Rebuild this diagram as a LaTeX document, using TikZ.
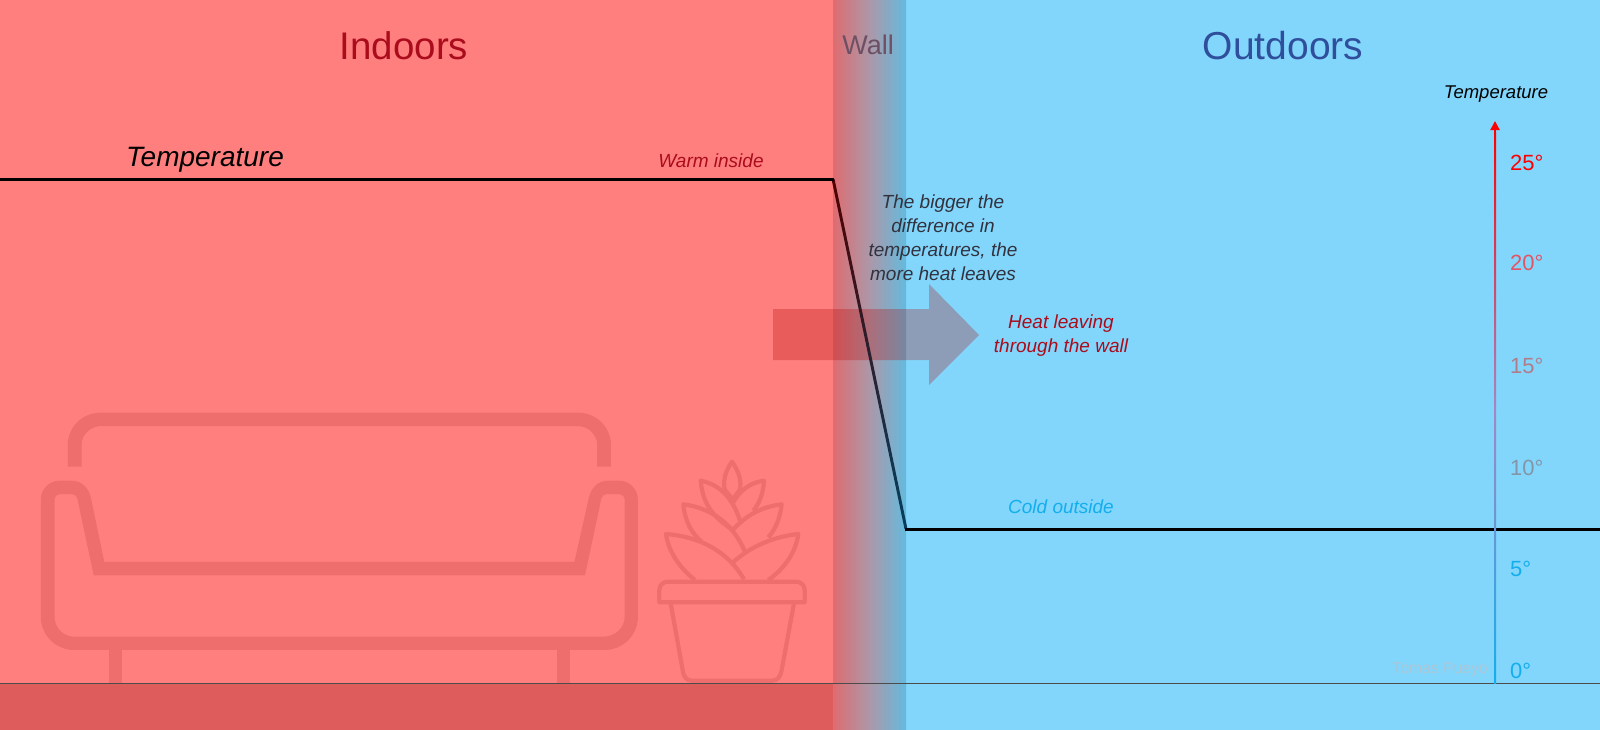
\documentclass[tikz,border=0pt]{standalone}
\usepackage{fontspec}
\setmainfont{Liberation Sans}
\usetikzlibrary{arrows.meta}
\definecolor{roomred}{RGB}{255,127,127}
\definecolor{skyblue}{RGB}{130,214,252}
\definecolor{floorred}{RGB}{222,92,92}
\definecolor{iconred}{RGB}{238,110,110}
\definecolor{darkred}{RGB}{170,12,28}
\definecolor{coldblue}{RGB}{20,174,236}
\definecolor{wallleft}{RGB}{222,108,112}
\definecolor{wallmid}{RGB}{172,152,168}
\definecolor{wallright}{RGB}{100,186,222}
\definecolor{axismid}{RGB}{165,135,195}
\tikzset{
  label/.style={inner sep=0pt,align=center},
  note/.style={label,font=\fontsize{19}{24}\selectfont\itshape},
  degree/.style={inner sep=0pt,anchor=west,font=\fontsize{22}{24}\selectfont},
  plantline/.style={draw=iconred,line width=4.2pt,line join=round},
  heatarrow/.style={fill={rgb,255:red,174;green,0;blue,0},fill opacity=0.27}
}
\begin{document}
\begin{tikzpicture}[x=1pt,y=-1pt]
\useasboundingbox (0,0) rectangle (1600,729);
% background
\path[clip] (0,0) rectangle (1600,729);
\fill[roomred] (0,0) rectangle (834,731);
\fill[skyblue] (905,0) rectangle (1600,731);
\fill[floorred] (0,683) rectangle (834,731);
\shade[left color=wallleft,right color=wallright,middle color=wallmid] (833,0) rectangle (906,731);
% sofa
\begin{scope}[shift={(0,390)},x=0.5294pt,y=-0.3333pt]
\fill[iconred] (128,230) -- (128,165) arc[start angle=180,end angle=270,x radius=62,y radius=97]
  -- (1092,68) arc[start angle=270,end angle=360,x radius=62,y radius=97]
  -- (1154,230) -- (1128,230) -- (1128,165) arc[start angle=0,end angle=-90,x radius=38,y radius=57]
  -- (192,108) arc[start angle=-90,end angle=-180,x radius=38,y radius=57] -- (154,230) -- cycle;
\fill[iconred,even odd rule] (77,330) arc[start angle=180,end angle=270,x radius=35,y radius=58]
  -- (135,272) .. controls (155,272) and (168,295) .. (172,325) -- (197,516) -- (1085,516) -- (1112,325)
  .. controls (1116,295) and (1129,272) .. (1149,272) -- (1170,272) arc[start angle=-90,end angle=0,x radius=35,y radius=58]
  -- (1205,680) arc[start angle=0,end angle=90,x radius=63,y radius=100]
  -- (140,780) arc[start angle=90,end angle=180,x radius=63,y radius=100] -- cycle
  (103,330) arc[start angle=180,end angle=270,x radius=10,y radius=18]
  -- (135,312) .. controls (141,312) and (145,318) .. (146,325) -- (177,556) -- (1105,556) -- (1136,325)
  .. controls (1137,318) and (1141,312) .. (1147,312) -- (1170,312) arc[start angle=-90,end angle=0,x radius=10,y radius=18]
  -- (1180,680) arc[start angle=0,end angle=90,x radius=40,y radius=60]
  -- (140,740) arc[start angle=90,end angle=180,x radius=37,y radius=60] -- cycle;
\fill[iconred] (205,780) rectangle (231,880);
\fill[iconred] (1052,780) rectangle (1077,880);
\end{scope}
% plant
\begin{scope}[shift={(640,440)},x=0.3333pt,y=-0.3333pt]
\draw[plantline] (58,487) -- (58,450) arc[start angle=180,end angle=270,radius=25] -- (469,425) arc[start angle=-90,end angle=0,radius=25] -- (494,487) -- cycle;
\draw[plantline] (92,490) -- (128,690) .. controls (131,712) and (140,722) .. (155,722) -- (397,722) .. controls (412,722) and (421,712) .. (425,690) -- (462,490);
\draw[plantline] (278,178) -- (255,150) .. controls (248,125) and (255,95) .. (276,65) .. controls (297,95) and (306,125) .. (299,150) -- (278,178);
\draw[plantline] (300,242) .. controls (280,180) and (245,135) .. (182,122) .. controls (187,175) and (205,225) .. (280,270);
\draw[plantline] (278,190) .. controls (300,150) and (330,128) .. (372,122) .. controls (370,160) and (358,190) .. (340,212);
\draw[plantline] (315,335) .. controls (280,255) and (220,205) .. (130,193) .. controls (135,245) and (155,280) .. (185,305);
\draw[plantline] (278,270) .. controls (320,225) and (365,200) .. (425,193) .. controls (420,235) and (408,265) .. (385,292);
\draw[plantline] (312,418) .. controls (265,335) and (180,290) .. (78,282) .. controls (85,335) and (120,385) .. (165,420);
\draw[plantline] (278,368) .. controls (330,320) and (400,290) .. (475,282) .. controls (468,335) and (435,385) .. (385,420);
\end{scope}
% heat arrow
\fill[heatarrow] (773,309) -- (929,309) -- (929,284) -- (979,335) -- (929,385) -- (929,360) -- (773,360) -- cycle;
% floor and temperature
\draw[line width=1pt,black!70] (0,683) -- (1600,683);
\coordinate (warmstart) at (0,179);
\coordinate (wallin) at (833,179);
\coordinate (wallout) at (906,529);
\coordinate (coldend) at (1600,529);
\shade[left color={rgb,255:red,80;green,0;blue,0},middle color={rgb,255:red,30;green,25;blue,45},right color={rgb,255:red,5;green,65;blue,95}]
  ([xshift=-1.5pt]wallin) -- ([xshift=1.5pt]wallin) -- ([xshift=1.5pt]wallout) -- ([xshift=-1.5pt]wallout) -- cycle;
\draw[line width=3pt,black] (warmstart) -- ([xshift=1pt]wallin);
\draw[line width=3pt,black] ([xshift=-1pt]wallout) -- (coldend);
% axis
\coordinate (axisbottom) at (1495,683);
\coordinate (axisneck) at (1495,132);
\coordinate (axistop) at (1495,121);
\shade[top color=red,bottom color=coldblue,middle color=axismid] ([xshift=-1pt]axisneck) rectangle ([xshift=1pt]axisbottom);
\draw[red,line width=2pt,-{Triangle[length=9pt,width=9pt]}] (axisneck) -- (axistop);
\node[degree,text=red] (deg25) at (1510,163) {25°};
\node[degree,text={rgb,255:red,226;green,85;blue,100}] (deg20) at (1510,263) {20°};
\node[degree,text={rgb,255:red,175;green,125;blue,140}] (deg15) at (1510,366) {15°};
\node[degree,text={rgb,255:red,130;green,150;blue,168}] (deg10) at (1510,468) {10°};
\node[degree,text=coldblue] (deg5) at (1510,569) {5°};
\node[degree,text=coldblue] (deg0) at (1510,671) {0°};
% labels
\node[label,font=\fontsize{38.5}{40}\selectfont,text=darkred] (indoors) at (404,46) {Indoors};
\node[label,font=\fontsize{27}{30}\selectfont,text={rgb,255:red,110;green,80;blue,100}] (wall) at (868,45) {Wall};
\node[label,font=\fontsize{39}{40}\selectfont,text={rgb,255:red,47;green,79;blue,156}] (outdoors) at (1283,46) {Outdoors};
\node[label,font=\fontsize{28}{30}\selectfont\itshape] (tempbig) at (205,160) {Temperature};
\node[label,font=\fontsize{18.5}{20}\selectfont\itshape] (tempaxis) at (1496,94) {Temperature};
\node[note,text=darkred] (warm) at (711,161) {Warm inside};
\node[note,text=coldblue] (cold) at (1061,507) {Cold outside};
\node[note,text={rgb,255:red,50;green,50;blue,62}] (bigger) at (943,238) {The bigger the\\difference in\\temperatures, the\\more heat leaves};
\node[note,text=darkred] (heat) at (1061,336) {Heat leaving\\through the wall};
\node[label,font=\fontsize{15.7}{18}\selectfont,text={rgb,255:red,172;green,198;blue,214}] (author) at (1440,670) {Tomas Pueyo};
\end{tikzpicture}
\end{document}
